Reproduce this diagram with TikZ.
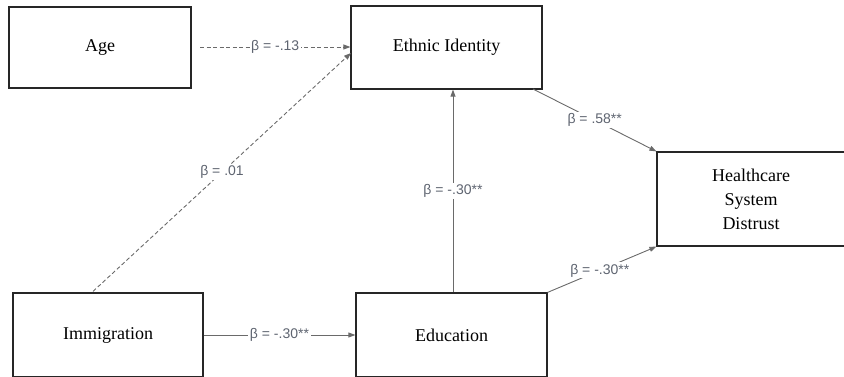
\documentclass[tikz,border=0pt]{standalone}
\usepackage{fontspec}
\setmainfont{Liberation Serif}
\newfontfamily\lblfont{Liberation Sans}
\usetikzlibrary{arrows.meta}
\definecolor{linegray}{HTML}{6A6A6A}
\definecolor{lblgray}{HTML}{5E6470}
\begin{document}
\begin{tikzpicture}[x=1pt,y=-1pt,
  box/.style={draw=black!85,line width=1.2pt,minimum width=#1,inner sep=0pt,font=\fontsize{18}{24}\selectfont,align=center},
  conn/.style={draw=linegray,line width=0.9pt,-{Triangle[length=7pt,width=5pt]}},
  dconn/.style={conn,dash pattern=on 4pt off 2.5pt},
  lbl/.style={fill=white,inner sep=1.5pt,text=lblgray,font=\lblfont\fontsize{14}{16}\selectfont}]
\useasboundingbox (0,0) rectangle (844,377);
\node[box=182pt,minimum height=81pt] (age) at (100,47.5) {Age};
\node[box=191pt,minimum height=83pt] (eth) at (446.5,47.5) {Ethnic Identity};
\node[box=188pt,minimum height=94pt] (hsd) at (751,199) {Healthcare\\System\\Distrust};
\node[box=190pt,minimum height=84pt] (imm) at (108,335) {Immigration};
\node[box=191pt,minimum height=84pt] (edu) at (451.5,335) {Education};
\coordinate (a1) at (200,47);
\draw[dconn] (a1) -- node[lbl]{β = -.13} (eth.west |- a1);
\draw[dconn] (imm.north -| 93,0) ++(0,-1) coordinate (i1) -- node[lbl,pos=0.5]{β = .01} (351,53);
\draw[conn] (533,89) coordinate (e1) -- node[lbl,pos=0.5]{β = .58**} (hsd.north west);
\draw[conn] (edu.north -| 453,0) -- node[lbl]{β = -.30**} (eth.south -| 453,0);
\draw[conn] (edu.north east) -- node[lbl,pos=0.48]{β = -.30**} (hsd.south west);
\draw[conn] (imm.east) -- node[lbl]{β = -.30**} (edu.west);
\end{tikzpicture}
\end{document}
